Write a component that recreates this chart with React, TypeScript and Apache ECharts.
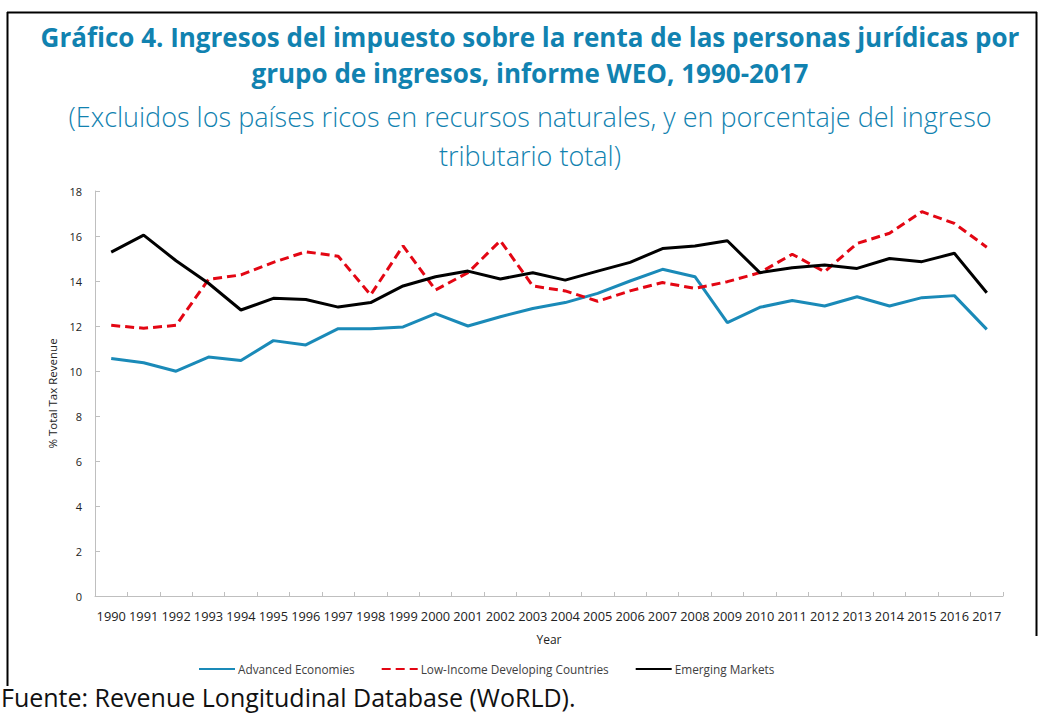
import React, { useEffect, useRef } from "react";
import * as echarts from "echarts";

const years = [
  "1990", "1991", "1992", "1993", "1994", "1995", "1996", "1997", "1998", "1999",
  "2000", "2001", "2002", "2003", "2004", "2005", "2006", "2007", "2008", "2009",
  "2010", "2011", "2012", "2013", "2014", "2015", "2016", "2017",
];

const advancedEconomies = [
  10.56, 10.37, 9.99, 10.62, 10.47, 11.35, 11.16, 11.88, 11.88, 11.96,
  12.55, 12.0, 12.41, 12.78, 13.04, 13.45, 14.0, 14.52, 14.19, 12.15,
  12.83, 13.13, 12.89, 13.3, 12.89, 13.26, 13.35, 11.85,
];

const lowIncomeDeveloping = [
  12.03, 11.9, 12.03, 14.07, 14.27, 14.83, 15.3, 15.1, 13.38, 15.56,
  13.6, 14.37, 15.79, 13.78, 13.56, 13.1, 13.56, 13.93, 13.67, 13.97,
  14.37, 15.19, 14.41, 15.67, 16.12, 17.08, 16.56, 15.5,
];

const emergingMarkets = [
  15.28, 16.04, 14.9, 13.9, 12.71, 13.23, 13.18, 12.84, 13.04, 13.78,
  14.19, 14.44, 14.09, 14.37, 14.04, 14.44, 14.83, 15.44, 15.56, 15.79,
  14.37, 14.59, 14.71, 14.56, 15.0, 14.86, 15.23, 13.48,
];

const seriesNames = ["Advanced Economies", "Low-Income Developing Countries", "Emerging Markets"];

const titleLines = [
  "Gráfico 4. Ingresos del impuesto sobre la renta de las personas jurídicas por",
  "grupo de ingresos, informe WEO, 1990-2017",
];
const subtitleLines = [
  "(Excluidos los países ricos en recursos naturales, y en porcentaje del ingreso",
  "tributario total)",
];
const sourceText = "Fuente: Revenue Longitudinal Database (WoRLD).";

const FONT = "'Open Sans', 'Noto Sans', sans-serif";
const TEAL = "#1182b0";

export default function App() {
  const ref = useRef<HTMLDivElement>(null);

  useEffect(() => {
    if (!ref.current) return;
    const chart = echarts.init(ref.current, null, { renderer: "svg" });
    const option: any = {
      animation: false,
      backgroundColor: "#ffffff",
      textStyle: { fontFamily: FONT },
      grid: { left: 95, right: 36, top: 191, bottom: 117 },
      legend: {
        data: seriesNames,
        left: 193,
        top: 658,
        itemWidth: 36,
        itemHeight: 14,
        itemGap: 26,
        itemStyle: { opacity: 0 },
        textStyle: { fontFamily: FONT, fontSize: 11.8, color: "#404040", padding: [0, 0, 0, -2] },
      },
      xAxis: {
        type: "category",
        data: years,
        boundaryGap: true,
        name: "Year",
        nameLocation: "middle",
        nameGap: 37,
        nameTextStyle: { fontFamily: FONT, fontSize: 12, color: "#222" },
        axisLine: { show: true, lineStyle: { color: "#bfbfbf", width: 1 } },
        axisTick: { show: true, inside: true, length: 4, interval: 0, lineStyle: { color: "#bfbfbf" } },
        axisLabel: { interval: 0, fontFamily: FONT, fontSize: 12.8, color: "#222", margin: 13 },
        splitLine: { show: false },
      },
      yAxis: {
        type: "value",
        min: 0,
        max: 18,
        interval: 2,
        name: "% Total Tax Revenue",
        nameLocation: "middle",
        nameGap: 33,
        nameRotate: 90,
        nameTextStyle: { fontFamily: FONT, fontSize: 11.5, color: "#222" },
        axisLine: { show: true, lineStyle: { color: "#bfbfbf", width: 1 } },
        axisTick: { show: true, inside: true, length: 5, lineStyle: { color: "#bfbfbf" } },
        axisLabel: { fontFamily: FONT, fontSize: 11, color: "#222", margin: 13 },
        splitLine: { show: false },
      },
      series: [
        {
          name: seriesNames[0],
          type: "line",
          data: advancedEconomies,
          symbol: "none",
          lineStyle: { color: "#1a8ab8", width: 3 },
          itemStyle: { color: "#1a8ab8" },
        },
        {
          name: seriesNames[1],
          type: "line",
          data: lowIncomeDeveloping,
          symbol: "none",
          lineStyle: { color: "#e30613", width: 3, type: [9, 5] },
          itemStyle: { color: "#e30613" },
        },
        {
          name: seriesNames[2],
          type: "line",
          data: emergingMarkets,
          symbol: "none",
          lineStyle: { color: "#000000", width: 3 },
          itemStyle: { color: "#000000" },
        },
      ],
      graphic: [
        { type: "line", shape: { x1: 7.5, y1: 12, x2: 7.5, y2: 686 }, style: { stroke: "#000", lineWidth: 2 } },
        { type: "line", shape: { x1: 7, y1: 12.5, x2: 1037, y2: 12.5 }, style: { stroke: "#000", lineWidth: 2 } },
        { type: "line", shape: { x1: 1036.5, y1: 12, x2: 1036.5, y2: 636 }, style: { stroke: "#000", lineWidth: 2 } },
        {
          type: "text", x: 530, y: 37,
          style: { text: titleLines[0], fill: TEAL, font: `bold 26px ${FONT}`, textAlign: "center", textVerticalAlign: "middle" },
        },
        {
          type: "text", x: 530, y: 73,
          style: { text: titleLines[1], fill: TEAL, font: `bold 26px ${FONT}`, textAlign: "center", textVerticalAlign: "middle" },
        },
        {
          type: "text", x: 530, y: 116,
          style: { text: subtitleLines[0], fill: TEAL, font: `300 27px ${FONT}`, textAlign: "center", textVerticalAlign: "middle" },
        },
        {
          type: "text", x: 530, y: 155,
          style: { text: subtitleLines[1], fill: TEAL, font: `300 27px ${FONT}`, textAlign: "center", textVerticalAlign: "middle" },
        },
        {
          type: "text", x: 1, y: 697,
          style: { text: sourceText, fill: "#111", font: `25px ${FONT}`, lineHeight: 26, textAlign: "left", textVerticalAlign: "middle" },
        },
      ],
    };
    chart.setOption(option);
    return () => chart.dispose();
  }, []);

  return (
    <div
      ref={ref}
      style={{ position: "fixed", left: 0, top: 0, width: 1039, height: 713, background: "#fff" }}
    />
  );
}
